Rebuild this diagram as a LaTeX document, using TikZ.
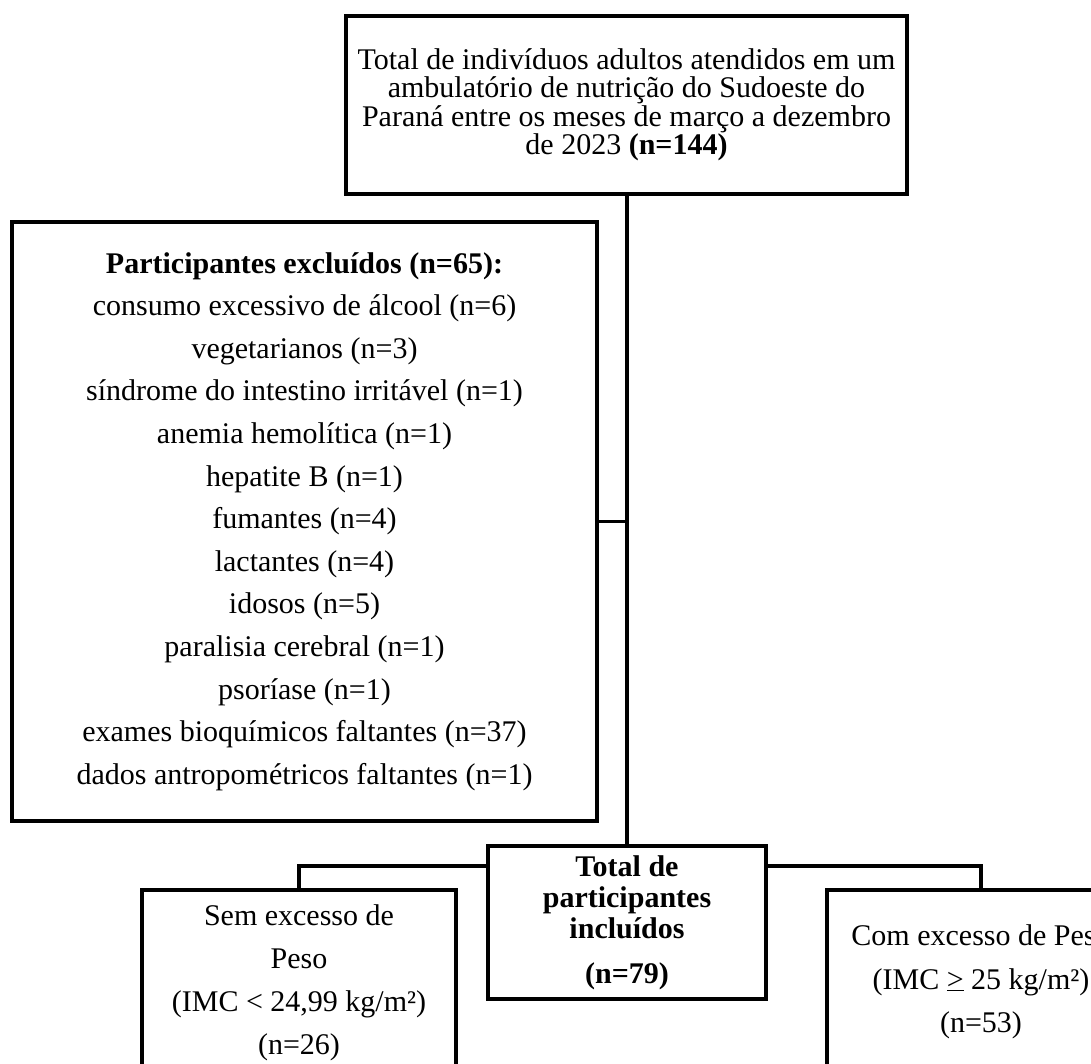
\documentclass[tikz,border=0pt]{standalone}
\usepackage{fontspec}
\setmainfont{Liberation Serif}
\begin{document}
\begin{tikzpicture}[x=1pt,y=-1pt,
  box/.style={draw=black, line width=3.1pt, rectangle, inner sep=0pt, outer sep=0pt, align=center},
  conn/.style={draw=black, line width=3.1pt},
  txt/.style={font=\fontsize{30}{#1}\selectfont},
  txtbf/.style={font=\fontsize{30}{#1}\selectfont\bfseries}]
\useasboundingbox (0,0) rectangle (1091,1063);
\fill[white] (0,0) rectangle (1091,1063);
\clip (0,0) rectangle (1091,1063);

\node[box, txt=28.5, minimum width=561pt, minimum height=178pt] (top) at (626.5,105)
  {Total de indivíduos adultos atendidos em um\\ambulatório de nutrição do Sudoeste do\\Paraná entre os meses de março a dezembro\\de 2023 \textbf{(n=144)}};

\node[box, txt=42.6, minimum width=585pt, minimum height=599pt] (exc) at (304.5,521.5)
  {\textbf{Participantes excluídos (n=65):}\\
   consumo excessivo de álcool (n=6)\\
   vegetarianos (n=3)\\
   síndrome do intestino irritável (n=1)\\
   anemia hemolítica (n=1)\\
   hepatite B (n=1)\\
   fumantes (n=4)\\
   lactantes (n=4)\\
   idosos (n=5)\\
   paralisia cerebral (n=1)\\
   psoríase (n=1)\\
   exames bioquímicos faltantes (n=37)\\
   dados antropométricos faltantes (n=1)};

\node[box, txtbf=31, minimum width=278pt, minimum height=153pt] (mid) at (627,922.5)
  {Total de\\participantes\\incluídos\\[14pt](n=79)};

\node[box, txt=43, minimum width=314pt, minimum height=186pt] (sem) at (299,983)
  {Sem excesso de\\Peso\\(IMC < 24,99 kg/m²)\\(n=26)};

\node[box, txt=43.5, minimum width=308pt, minimum height=184pt] (com) at (981,982)
  {Com excesso de Peso\\(IMC \underline{>} 25 kg/m²)\\(n=53)};

\coordinate (lvl) at (0,866);

\draw[conn] (top.south -| mid.north) -- (mid.north);
\draw[conn] (exc.east) -- (exc.east -| mid.north);
\draw[conn] (mid.west |- lvl) -| (sem.north);
\draw[conn] (mid.east |- lvl) -| (com.north);
\end{tikzpicture}
\end{document}
